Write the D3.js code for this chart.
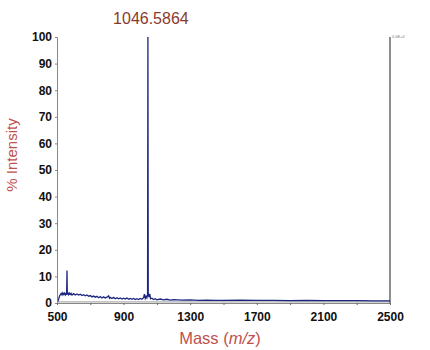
<!DOCTYPE html>
<html>
<head>
<meta charset="utf-8">
<script src="https://cdn.jsdelivr.net/npm/d3@7"></script>
<style>
  body { margin: 0; background: #fff; }
  svg { display: block; font-family: "Liberation Sans", Arial, sans-serif; }
</style>
</head>
<body>
<div id="chart"></div>
<script>
// spectrum values
const mzValues = [505, 510, 515, 520, 525, 530, 535, 540, 545, 550, 555, 558, 560, 562, 565, 570, 575, 580, 585, 590,
  600, 610, 620, 630, 640, 650, 660, 670, 680, 690, 700, 710, 720, 730, 740, 750, 760, 770, 780, 790,
  800, 810, 815, 820, 830, 840, 850, 860, 870, 880, 890, 900, 910, 920, 930, 940, 950, 960, 970, 980,
  990, 1000, 1010, 1020, 1025, 1030, 1035, 1040, 1044, 1046, 1048, 1052, 1057, 1062, 1070, 1080, 1090, 1100, 1120, 1140,
  1160, 1180, 1200, 1250, 1300, 1350, 1400, 1450, 1500, 1600, 1700, 1800, 1900, 2000, 2100, 2200, 2300, 2400, 2500];
const intensityValues = [0.5, 1.5, 2.6, 3.1, 3.6, 3.0, 3.8, 3.2, 3.7, 3.0, 3.6, 3.1, 12.2, 3.2, 3.8, 3.1, 3.7, 3.2, 3.6, 3.0,
  3.5, 3.0, 3.4, 3.0, 3.3, 2.8, 3.1, 2.7, 3.0, 2.5, 2.8, 2.3, 2.6, 2.2, 2.5, 2.0, 2.4, 1.9, 2.3, 1.9,
  2.2, 2.7, 1.8, 2.1, 1.7, 2.1, 1.6, 2.0, 1.6, 1.9, 1.5, 1.8, 1.5, 1.9, 1.4, 1.7, 1.4, 1.7, 1.3, 1.6,
  1.3, 1.7, 1.4, 2.0, 3.3, 1.7, 2.5, 1.9, 3.1, 100, 3.6, 2.2, 3.4, 1.6, 1.8, 1.3, 1.6, 1.2, 1.5, 1.2,
  1.4, 1.1, 1.3, 1.1, 1.2, 1.0, 1.1, 1.0, 1.0, 1.1, 1.0, 1.0, 0.9, 1.0, 0.9, 0.9, 0.9, 0.8, 0.8];
const xTicks = [500, 900, 1300, 1700, 2100, 2500];
const xMinorTicks = [700, 1100, 1500, 1900, 2300];
const yTicks = [0, 10, 20, 30, 40, 50, 60, 70, 80, 90, 100];
const peakLabel = "1046.5864";
const peakMz = 1046;

const width = 430, height = 350;
const margin = {top: 37, right: 40, bottom: 47, left: 57};
const w = width - margin.left - margin.right;
const h = height - margin.top - margin.bottom;

const svg = d3.select("#chart")
    .append("svg")
    .attr("width", width)
    .attr("height", height)
    .append("g")
    .attr("transform", `translate(${margin.left}, ${margin.top})`);

const x = d3.scaleLinear().domain([500, 2500]).range([0, w]);
const y = d3.scaleLinear().domain([0, 100]).range([h, 0]);

// gray baseline trace
svg.append("line")
    .attr("x1", x(500)).attr("x2", x(2500))
    .attr("y1", y(0.4)).attr("y2", y(0.4))
    .attr("stroke", "#999")
    .attr("stroke-width", 1);

// right side reference line
svg.append("line")
    .attr("x1", x(2500)).attr("x2", x(2500))
    .attr("y1", y(0)).attr("y2", y(100))
    .attr("stroke", "#444")
    .attr("stroke-width", 1.2);

svg.append("text")
    .attr("x", x(2500) + 2)
    .attr("y", y(100) + 1)
    .style("font-size", "4px")
    .attr("fill", "#777")
    .text("0.0E+0");

// spectrum
const spectrum = mzValues.map((m, i) => [m, intensityValues[i]]);
svg.append("path")
    .datum(spectrum)
    .attr("fill", "none")
    .attr("stroke", "#1c2580")
    .attr("stroke-width", 1.3)
    .attr("d", d3.line().x(d => x(d[0])).y(d => y(d[1])));

// y axis
const yAxis = svg.append("g")
    .call(d3.axisLeft(y).tickValues(yTicks).tickSize(2).tickPadding(3));
yAxis.select(".domain").attr("stroke", "#888");
yAxis.selectAll(".tick line").attr("stroke", "#888");
yAxis.selectAll("text")
    .style("font-size", "12px")
    .style("font-weight", "bold")
    .attr("fill", "#111");

// x axis
const xAxis = svg.append("g")
    .attr("transform", `translate(0, ${h})`)
    .call(d3.axisBottom(x).tickValues(xTicks).tickFormat(d3.format("d")).tickSize(2).tickPadding(7));
xAxis.select(".domain").attr("stroke", "#888");
xAxis.selectAll(".tick line").attr("stroke", "#666");
xAxis.selectAll("text")
    .style("font-size", "12px")
    .style("font-weight", "bold")
    .attr("fill", "#111");

svg.append("g")
    .attr("transform", `translate(0, ${h})`)
    .call(d3.axisBottom(x).tickValues(xMinorTicks).tickSize(2).tickFormat(""))
    .call(g => g.select(".domain").remove())
    .selectAll("line").attr("stroke", "#666");

// peak label
svg.append("text")
    .attr("x", x(peakMz) + 3)
    .attr("y", -13)
    .attr("text-anchor", "middle")
    .style("font-size", "16px")
    .attr("fill", "#8b3a2e")
    .text(peakLabel);

// axis titles
svg.append("text")
    .attr("transform", "rotate(-90)")
    .attr("x", -118)
    .attr("y", -40)
    .attr("text-anchor", "middle")
    .style("font-size", "15px")
    .attr("fill", "#c0504d")
    .text("% Intensity");

const xTitle = svg.append("text")
    .attr("x", 163)
    .attr("y", h + 41)
    .attr("text-anchor", "middle")
    .style("font-size", "16.5px")
    .attr("fill", "#c0504d");
xTitle.append("tspan").text("Mass (");
xTitle.append("tspan").style("font-style", "italic").text("m/z");
xTitle.append("tspan").text(")");
</script>
</body>
</html>
